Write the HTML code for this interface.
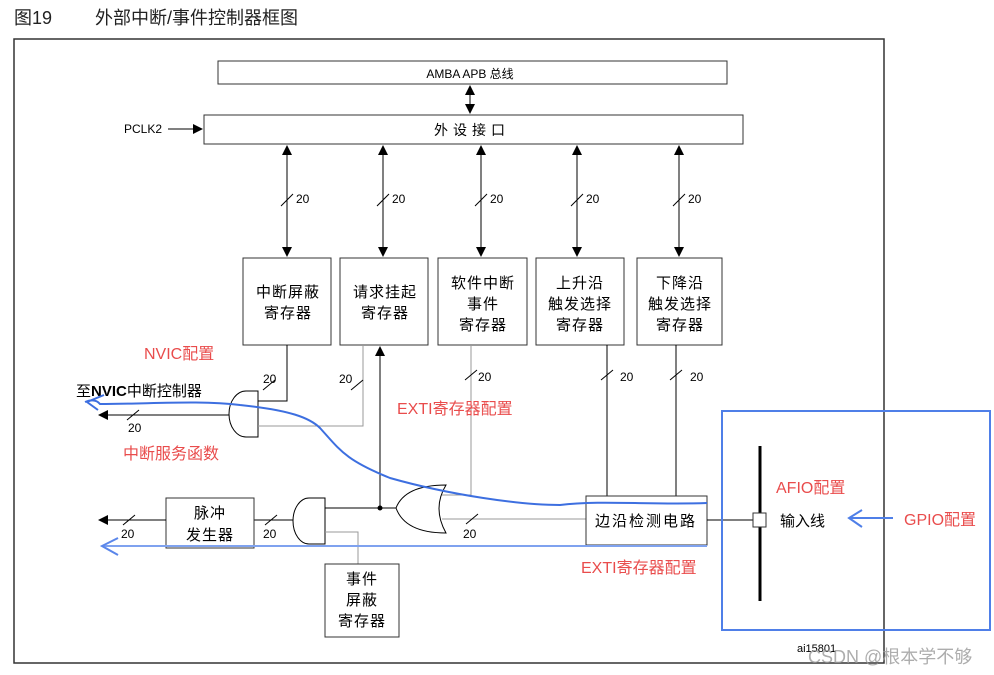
<!DOCTYPE html>
<html><head><meta charset="utf-8"><style>
html,body{margin:0;padding:0;background:#fff;}
svg{display:block;}
text{font-family:"Liberation Sans","Noto Sans CJK SC",sans-serif;}
</style></head><body>
<svg width="994" height="675" viewBox="0 0 994 675" xmlns="http://www.w3.org/2000/svg">
<defs>
<marker id="a" viewBox="0 0 10 10" refX="9" refY="5" markerWidth="10" markerHeight="10" orient="auto-start-reverse"><path d="M0,0L10,5L0,10z" fill="#000"/></marker>
</defs>
<rect width="994" height="675" fill="#fff"/>
<text x="14" y="24" font-size="18" fill="#222">图19</text>
<text x="95" y="24" font-size="18" fill="#222">外部中断/事件控制器框图</text>
<rect x="14" y="39" width="870" height="624" fill="none" stroke="#333" stroke-width="1.5"/>
<rect x="218" y="61" width="509" height="23" fill="none" stroke="#333"/>
<text x="470" y="78" font-size="12" text-anchor="middle">AMBA APB 总线</text>
<line x1="470" y1="86" x2="470" y2="113" stroke="#000" marker-start="url(#a)" marker-end="url(#a)"/>
<rect x="204" y="115" width="539" height="29" fill="none" stroke="#333"/>
<text x="472" y="135" font-size="14" text-anchor="middle" letter-spacing="5">外设接口</text>
<text x="124" y="133" font-size="12">PCLK2</text>
<line x1="168" y1="129" x2="202" y2="129" stroke="#000" marker-end="url(#a)"/>
<g stroke="#000">
<line x1="287" y1="146" x2="287" y2="256" marker-start="url(#a)" marker-end="url(#a)"/>
<line x1="383" y1="146" x2="383" y2="256" marker-start="url(#a)" marker-end="url(#a)"/>
<line x1="481" y1="146" x2="481" y2="256" marker-start="url(#a)" marker-end="url(#a)"/>
<line x1="577" y1="146" x2="577" y2="256" marker-start="url(#a)" marker-end="url(#a)"/>
<line x1="679" y1="146" x2="679" y2="256" marker-start="url(#a)" marker-end="url(#a)"/>
<line x1="281" y1="206" x2="293" y2="194"/><line x1="377" y1="206" x2="389" y2="194"/><line x1="475" y1="206" x2="487" y2="194"/><line x1="571" y1="206" x2="583" y2="194"/><line x1="673" y1="206" x2="685" y2="194"/>
</g>
<g font-size="12"><text x="296" y="203">20</text><text x="392" y="203">20</text><text x="490" y="203">20</text><text x="586" y="203">20</text><text x="688" y="203">20</text></g>
<g fill="none" stroke="#333">
<rect x="243" y="258" width="88" height="87"/><rect x="340" y="258" width="88" height="87"/><rect x="438" y="258" width="89" height="87"/><rect x="536" y="258" width="88" height="87"/><rect x="637" y="258" width="85" height="87"/>
</g>
<g font-size="15" text-anchor="middle" letter-spacing="1">
<text x="288" y="297">中断屏蔽</text><text x="288" y="318">寄存器</text>
<text x="385" y="297">请求挂起</text><text x="385" y="318">寄存器</text>
<text x="483" y="288">软件中断</text><text x="483" y="309">事件</text><text x="483" y="330">寄存器</text>
<text x="580" y="288">上升沿</text><text x="580" y="309">触发选择</text><text x="580" y="330">寄存器</text>
<text x="680" y="288">下降沿</text><text x="680" y="309">触发选择</text><text x="680" y="330">寄存器</text>
</g>
<path d="M258,391 L246,391 A17,23 0 0 0 246,437 L258,437 Z" fill="none" stroke="#000"/>
<polyline points="287,345 287,401 258,401" fill="none" stroke="#000"/>
<polyline points="363,345 363,426 258,426" fill="none" stroke="#999"/>
<line x1="229" y1="415" x2="99" y2="415" stroke="#000" marker-end="url(#a)"/>
<line x1="127" y1="420" x2="139" y2="410" stroke="#000"/>
<text x="128" y="432" font-size="12">20</text>
<line x1="263" y1="390" x2="275" y2="380" stroke="#000"/>
<text x="263" y="383" font-size="12">20</text>
<line x1="351" y1="390" x2="363" y2="380" stroke="#000"/>
<text x="339" y="383" font-size="12">20</text>
<text x="76" y="396" font-size="15">至<tspan font-weight="bold">NVIC</tspan>中断控制器</text>
<line x1="380" y1="508" x2="380" y2="347" stroke="#000" marker-end="url(#a)"/>
<circle cx="380" cy="508" r="2.5" fill="#000"/>
<path d="M396,508 Q405,485 446,485 Q432,508 446,533 Q405,533 396,508 Z" fill="none" stroke="#000"/>
<polyline points="471,345 471,495 442,495" fill="none" stroke="#999"/>
<line x1="586" y1="519" x2="442" y2="519" stroke="#999"/>
<line x1="465" y1="380" x2="477" y2="370" stroke="#000"/><text x="478" y="381" font-size="12">20</text>
<line x1="466" y1="524" x2="478" y2="514" stroke="#000"/><text x="463" y="538" font-size="12">20</text>
<line x1="325" y1="508" x2="396" y2="508" stroke="#000"/>
<path d="M325,498 L309,498 A16,23 0 0 0 309,544 L325,544 Z" fill="none" stroke="#000"/>
<polyline points="325,532 358,532 358,564" fill="none" stroke="#999"/>
<line x1="293" y1="520" x2="254" y2="520" stroke="#000"/>
<line x1="265" y1="525" x2="277" y2="515" stroke="#000"/><text x="263" y="538" font-size="12">20</text>
<rect x="166" y="498" width="88" height="50" fill="none" stroke="#333"/>
<text x="210" y="518" font-size="15" text-anchor="middle" letter-spacing="1">脉冲</text>
<text x="210" y="540" font-size="15" text-anchor="middle" letter-spacing="1">发生器</text>
<line x1="166" y1="520" x2="99" y2="520" stroke="#000" marker-end="url(#a)"/>
<line x1="123" y1="525" x2="135" y2="515" stroke="#000"/><text x="121" y="538" font-size="12">20</text>
<rect x="325" y="564" width="74" height="73" fill="none" stroke="#333"/>
<g font-size="15" text-anchor="middle" letter-spacing="1"><text x="362" y="584">事件</text><text x="362" y="605">屏蔽</text><text x="362" y="626">寄存器</text></g>
<line x1="607" y1="345" x2="607" y2="496" stroke="#000"/>
<line x1="676" y1="345" x2="676" y2="496" stroke="#000"/>
<line x1="601" y1="380" x2="613" y2="370" stroke="#000"/><text x="620" y="381" font-size="12">20</text>
<line x1="670" y1="380" x2="682" y2="370" stroke="#000"/><text x="690" y="381" font-size="12">20</text>
<rect x="586" y="496" width="121" height="49" fill="none" stroke="#333"/>
<text x="646" y="526" font-size="15" text-anchor="middle" letter-spacing="2">边沿检测电路</text>
<line x1="707" y1="520" x2="753" y2="520" stroke="#000"/>
<line x1="760" y1="446" x2="760" y2="601" stroke="#000" stroke-width="3"/>
<rect x="753" y="513" width="13" height="14" fill="#fff" stroke="#333"/>
<text x="780" y="526" font-size="15">输入线</text>
<rect x="722" y="411" width="268" height="219" fill="none" stroke="#4f7fe8" stroke-width="2"/>
<g fill="#e94c4c" font-size="16">
<text x="144" y="359">NVIC配置</text>
<text x="397" y="414">EXTI寄存器配置</text>
<text x="123" y="459">中断服务函数</text>
<text x="581" y="573">EXTI寄存器配置</text>
<text x="776" y="493">AFIO配置</text>
<text x="904" y="525">GPIO配置</text>
</g>
<path d="M85,402 Q95,398 100,404 C150,404 200,400 240,405 C290,410 310,418 320,428 C340,450 345,460 390,478 C450,495 520,505 560,505 C600,500 650,505 707,503" fill="none" stroke="#3d6fe0" stroke-width="2"/>
<path d="M104,395 L87,402 L98,410" fill="none" stroke="#3d6fe0" stroke-width="2"/>
<line x1="102" y1="546" x2="707" y2="546" stroke="#7fa2ef" stroke-width="2"/>
<path d="M118,538 L102,546 L118,555" fill="none" stroke="#5a86ea" stroke-width="2"/>
<line x1="850" y1="518" x2="893" y2="518" stroke="#4f7fe8" stroke-width="2"/>
<path d="M862,510 L849,518 L862,527" fill="none" stroke="#4f7fe8" stroke-width="2"/>
<text x="797" y="652" font-size="11">ai15801</text>
<text x="808" y="663" font-size="18" fill="#999" opacity="0.8">CSDN @根本学不够</text>
</svg>
</body></html>
